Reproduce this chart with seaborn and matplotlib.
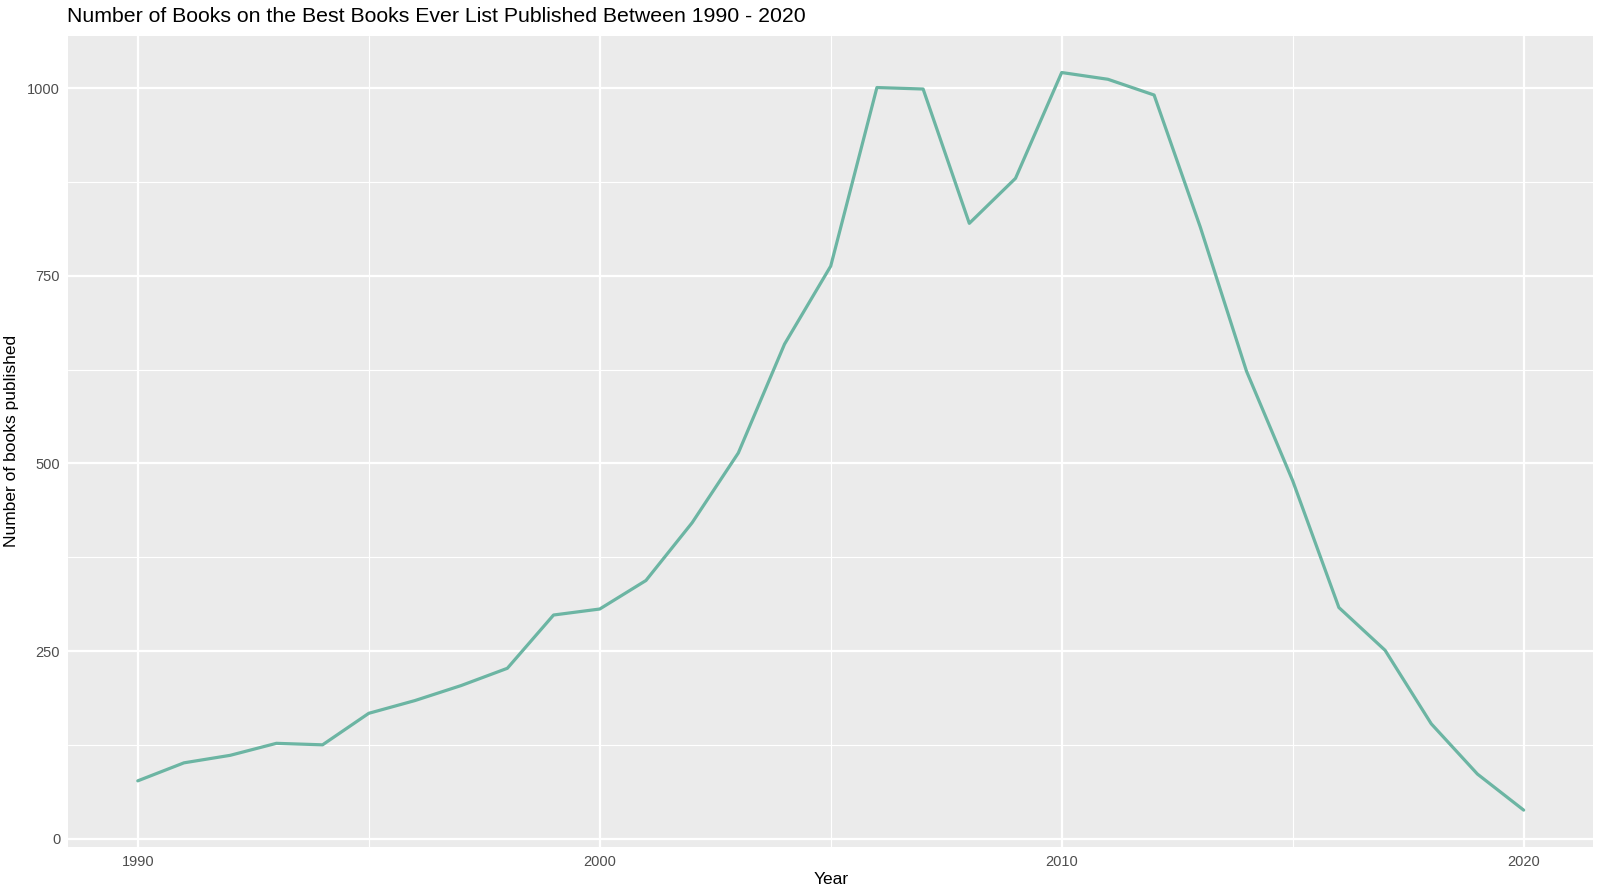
import matplotlib
matplotlib.use("Agg")
import matplotlib.pyplot as plt
import seaborn as sns
import pandas as pd
from matplotlib.ticker import FixedLocator

years = list(range(1990, 2021))
books = [77, 101, 111, 127, 125, 167, 184, 204, 227, 298,
         306, 344, 421, 514, 659, 763, 1001, 999, 820, 880,
         1021, 1012, 991, 815, 623, 477, 308, 251, 153, 86,
         38]

x_major = [1990, 2000, 2010, 2020]
x_minor = [1995, 2005, 2015]
y_major = [0, 250, 500, 750, 1000]
y_minor = [125, 375, 625, 875]

title = "Number of Books on the Best Books Ever List Published Between 1990 - 2020"
xlabel = "Year"
ylabel = "Number of books published"

df = pd.DataFrame({"year": years, "books": books})

sns.set_theme(style="darkgrid")
plt.rcParams["font.family"] = ["Liberation Sans", "DejaVu Sans"]

fig = plt.figure(figsize=(16, 8.91), dpi=100)
ax = fig.add_axes([0.0428, 0.0494, 0.9528, 0.9106])
ax.set_facecolor("#EBEBEB")

sns.lineplot(data=df, x="year", y="books", ax=ax, color="#6cb5a3", linewidth=2.3)

span = years[-1] - years[0]
ax.set_xlim(years[0] - 0.05 * span, years[-1] + 0.05 * span)
yr = max(books) - min(books)
ax.set_ylim(min(books) - 0.05 * yr, max(books) + 0.05 * yr)

ax.xaxis.set_major_locator(FixedLocator(x_major))
ax.xaxis.set_minor_locator(FixedLocator(x_minor))
ax.yaxis.set_major_locator(FixedLocator(y_major))
ax.yaxis.set_minor_locator(FixedLocator(y_minor))
ax.set_xticklabels([str(v) for v in x_major])
ax.set_yticklabels([str(v) for v in y_major])

ax.grid(which="major", color="white", linewidth=1.6)
ax.grid(which="minor", color="white", linewidth=0.8)
ax.set_axisbelow(True)
for s in ax.spines.values():
    s.set_visible(False)

ax.tick_params(axis="both", which="major", length=3.5, width=1.0, color="#333333",
               labelsize=10.5, labelcolor="#4D4D4D", pad=2.5, direction="out")
ax.tick_params(axis="both", which="minor", length=0)

ax.set_xlabel(xlabel, fontsize=12.5, color="black", labelpad=2)
ax.set_ylabel(ylabel, fontsize=12.5, color="black", labelpad=6)
ax.set_title(title, loc="left", fontsize=15.3, color="black", pad=10, x=-0.001)

fig.savefig("out.png", dpi=100, facecolor="white")
